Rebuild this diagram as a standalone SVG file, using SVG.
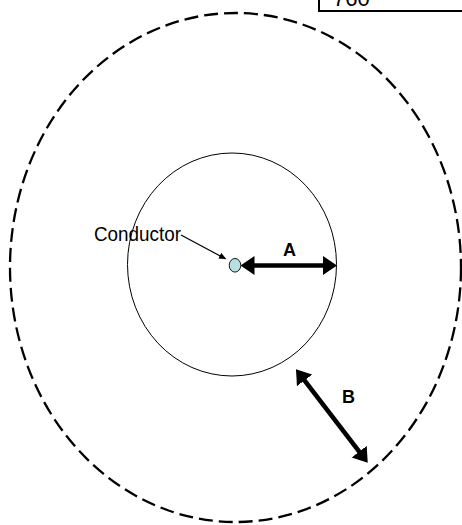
<svg xmlns="http://www.w3.org/2000/svg" width="462" height="525" viewBox="0 0 462 525">
  <style>
    .lbl { font-family: "Liberation Sans", Arial, sans-serif; fill: #000; }
    .bold { font-weight: bold; font-size: 18px; text-anchor: middle; }
    .thick { stroke: #000; stroke-width: 4.6; fill: none; }
    .thin { stroke: #000; stroke-width: 1.3; fill: none; }
  </style>
  <defs>
    <marker id="bigHead" markerUnits="userSpaceOnUse" viewBox="0 -10 15 20" refX="1" refY="0" markerWidth="15" markerHeight="20" orient="auto-start-reverse">
      <path d="M0,-9.5 L14,0 L0,9.5 z" fill="#000"/>
    </marker>
    <marker id="smallHead" markerUnits="userSpaceOnUse" viewBox="0 -4 8 8" refX="1" refY="0" markerWidth="8" markerHeight="8" orient="auto">
      <path d="M0,-3.2 L7.5,0 L0,3.2 z" fill="#000"/>
    </marker>
  </defs>
  <rect width="462" height="525" fill="#fff"/>

  <g id="label-box">
    <rect x="319" y="-10" width="160" height="21" fill="#fff" stroke="#000" stroke-width="2"/>
    <text class="lbl" x="333" y="5.5" font-size="22">760</text>
  </g>

  <g id="outer-boundary">
    <ellipse cx="235.5" cy="267.5" rx="225.5" ry="254.5" fill="none" stroke="#000" stroke-width="2.3" stroke-dasharray="14 6"/>
  </g>

  <g id="inner-circle">
    <ellipse cx="232" cy="264.5" rx="104.5" ry="111.5" fill="none" stroke="#000" stroke-width="1"/>
  </g>

  <g id="conductor">
    <ellipse cx="235" cy="265.3" rx="5.8" ry="6.8" fill="#B7DFE0" stroke="#000" stroke-width="0.9"/>
    <text class="lbl" x="94" y="240.5" font-size="20" textLength="87" lengthAdjust="spacingAndGlyphs">Conductor</text>
  </g>

  <g id="label-A">
    <text class="lbl bold" x="289.5" y="256">A</text>
  </g>
  <g id="label-B">
    <text class="lbl bold" x="348.5" y="403">B</text>
  </g>

  <g id="connectors">
    <line class="thin" x1="181" y1="235" x2="220.7" y2="256.2" marker-end="url(#smallHead)"/>
    <line class="thick" x1="253.5" y1="265.5" x2="324" y2="265.5" marker-start="url(#bigHead)" marker-end="url(#bigHead)"/>
    <line class="thick" x1="303.9" y1="379.6" x2="359.8" y2="452.4" marker-start="url(#bigHead)" marker-end="url(#bigHead)"/>
  </g>
</svg>
